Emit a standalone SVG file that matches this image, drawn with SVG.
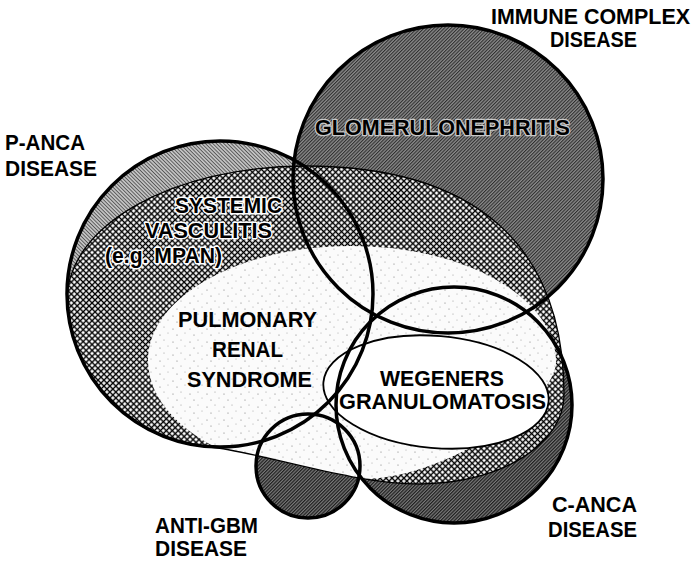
<svg xmlns="http://www.w3.org/2000/svg" width="695" height="561" viewBox="0 0 695 561">
<style>
text{font-family:"Liberation Sans",Arial,Helvetica,sans-serif;font-weight:bold;font-size:22px;fill:#000}
.halo{stroke:#fff;stroke-width:3;stroke-linejoin:round;paint-order:stroke}
.halo2{stroke:#c8c8c8;stroke-width:2.6;stroke-linejoin:round;paint-order:stroke}
.thick{fill:none;stroke:#000;stroke-width:3.5}
.thin{fill:none;stroke:#000;stroke-width:1.3}
.wthin{fill:none;stroke:#000;stroke-width:1.8}
</style>
<defs>
<pattern id="pGray" width="2.6" height="2.6" patternUnits="userSpaceOnUse" patternTransform="rotate(45)"><rect width="2.6" height="2.6" fill="#c4c4c4"/><rect width="2.6" height="0.9" fill="#555"/></pattern>
<pattern id="pImm" width="2.4" height="2.4" patternUnits="userSpaceOnUse" patternTransform="rotate(-45)"><rect width="2.4" height="2.4" fill="#8a8a8a"/><rect width="2.4" height="1.05" fill="#2e2e2e"/></pattern>
<pattern id="pDark" width="2.4" height="2.4" patternUnits="userSpaceOnUse" patternTransform="rotate(-45)"><rect width="2.4" height="2.4" fill="#7a7a7a"/><rect width="2.4" height="1.2" fill="#1e1e1e"/></pattern>
<pattern id="pX" width="4.2" height="4.2" patternUnits="userSpaceOnUse" patternTransform="rotate(45)"><rect width="4.2" height="4.2" fill="#fff"/><rect y="1.4" width="4.2" height="1.4" fill="#000"/><rect x="1.4" width="1.4" height="4.2" fill="#000"/></pattern>
<pattern id="pSpeck" width="17" height="13" patternUnits="userSpaceOnUse"><rect width="17" height="13" fill="#fbfbfb"/><circle cx="3" cy="4" r="0.6" fill="#777"/><circle cx="11" cy="2" r="0.5" fill="#888"/><circle cx="7" cy="10" r="0.6" fill="#777"/><circle cx="15" cy="8" r="0.5" fill="#999"/></pattern>
<path id="svShape" d="M67,300 C67,225 174,166 305,166 C475,166 564,245 564,395 C564,444 500,484 420,484 C350,484 260,452 210,447 A153,153 0 0 1 67,300 Z"/>
<path id="prsShape" d="M148,360 C148,297 240,246 350,246 C470,246 556,300 556,362 C556,400 450,479 360,479 C250,479 148,430 148,360 Z"/>
<clipPath id="svClip"><use href="#svShape"/></clipPath>
<circle id="cancaShape" cx="454" cy="405" r="118"/>
<circle id="gbmShape" cx="308" cy="466" r="52"/>
<circle id="pancaShape" cx="220" cy="294" r="153"/>
<ellipse id="immShape" cx="448" cy="179" rx="155" ry="154"/>
<ellipse id="wegShape" cx="436" cy="392" rx="113" ry="56" transform="rotate(5 436 392)"/>
</defs>
<rect width="695" height="561" fill="#fff"/>

<g id="c-anca-disease">
<use href="#cancaShape" fill="url(#pDark)"/>
<text x="552" y="512" textLength="85" lengthAdjust="spacingAndGlyphs">C-ANCA</text>
<text x="548" y="537" textLength="89" lengthAdjust="spacingAndGlyphs">DISEASE</text>
</g>
<g id="anti-gbm-disease">
<use href="#gbmShape" fill="url(#pDark)"/>
<text x="155" y="533" font-size="20" textLength="103" lengthAdjust="spacingAndGlyphs">ANTI-GBM</text>
<text x="155" y="556" font-size="20" textLength="92" lengthAdjust="spacingAndGlyphs">DISEASE</text>
</g>
<g id="p-anca-disease">
<use href="#pancaShape" fill="url(#pGray)"/>
<text x="5" y="150" font-size="21" textLength="80" lengthAdjust="spacingAndGlyphs">P-ANCA</text>
<text x="5" y="176" font-size="21" textLength="92" lengthAdjust="spacingAndGlyphs">DISEASE</text>
</g>
<g id="immune-complex-disease">
<use href="#immShape" fill="url(#pImm)"/>
<text x="491" y="24" textLength="199" lengthAdjust="spacingAndGlyphs">IMMUNE COMPLEX</text>
<text x="550" y="47" textLength="87" lengthAdjust="spacingAndGlyphs">DISEASE</text>
<text class="halo2" x="315" y="135" textLength="255" lengthAdjust="spacingAndGlyphs">GLOMERULONEPHRITIS</text>
</g>
<g id="systemic-vasculitis">
<use href="#svShape" fill="url(#pX)"/>
<text class="halo" x="175" y="213" textLength="107" lengthAdjust="spacingAndGlyphs">SYSTEMIC</text>
<text class="halo" x="145" y="238" textLength="127" lengthAdjust="spacingAndGlyphs">VASCULITIS</text>
<text class="halo" x="105" y="263" textLength="117" lengthAdjust="spacingAndGlyphs">(e.g. MPAN)</text>
</g>
<g id="pulmonary-renal-syndrome">
<use href="#prsShape" fill="url(#pSpeck)" clip-path="url(#svClip)"/>
<text x="178" y="327" textLength="139" lengthAdjust="spacingAndGlyphs">PULMONARY</text>
<text x="212" y="357" textLength="71" lengthAdjust="spacingAndGlyphs">RENAL</text>
<text x="187" y="387" textLength="125" lengthAdjust="spacingAndGlyphs">SYNDROME</text>
</g>
<g id="wegeners-granulomatosis">
<use href="#wegShape" fill="#fff"/>
<use href="#wegShape" class="wthin"/>
<text x="380" y="386" textLength="124" lengthAdjust="spacingAndGlyphs">WEGENERS</text>
<text x="339" y="409" textLength="207" lengthAdjust="spacingAndGlyphs">GRANULOMATOSIS</text>
</g>

<g id="connectors">
<use href="#svShape" class="thin"/>
<use href="#pancaShape" class="thick"/>
<use href="#immShape" class="thick"/>
<use href="#cancaShape" class="thick"/>
<use href="#gbmShape" class="thick"/>
</g>
</svg>
